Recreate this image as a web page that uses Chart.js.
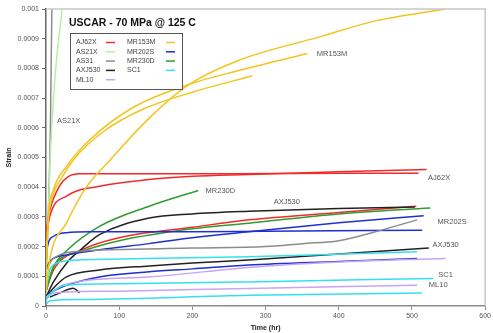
<!DOCTYPE html>
<html>
<head>
<meta charset="utf-8">
<script src="https://cdn.jsdelivr.net/npm/chart.js@4.4.1/dist/chart.umd.min.js"></script>
<style>
  html, body { margin: 0; padding: 0; background: #fff; }
  #wrap { width: 493px; height: 333px; }
</style>
</head>
<body>
<div id="wrap"><canvas id="grafico" width="493" height="333"></canvas></div>
<script>
// ================= DADOS =================
// cada curva: pares [tempo (hr), deformacao]
const xTicks = [0, 100, 200, 300, 400, 500, 600];
const yTicks = [0, 0.0001, 0.0002, 0.0003, 0.0004, 0.0005, 0.0006, 0.0007, 0.0008, 0.0009, 0.001];

const aj62x_1 = [[0,2.5e-4],[5,3.2e-4],[10,3.6e-4],[20,4.1e-4],[30,4.35e-4],[46,4.45e-4],[100,4.45e-4],[200,4.45e-4],[300,4.46e-4],[400,4.47e-4],[509,4.47e-4]];
const aj62x_2 = [[0,2.2e-4],[5,3.0e-4],[28,3.7e-4],[73,4.03e-4],[141,4.26e-4],[200,4.37e-4],[277,4.43e-4],[400,4.52e-4],[520,4.6e-4]];
const aj62x_3 = [[0,0.5e-4],[10,1.2e-4],[50,1.9e-4],[100,2.3e-4],[200,2.65e-4],[277,2.9e-4],[400,3.15e-4],[506,3.36e-4]];

const as21x_1 = [[0,0.3e-4],[2,2.0e-4],[5,4.6e-4],[12,7.6e-4],[22,10.0e-4],[26,11e-4]];

const as31_1 = [[0,1.0e-4],[3,3.0e-4],[6,6.0e-4],[8,10.0e-4],[9,11.5e-4]];
const as31_2 = [[0,1.2e-4],[10,1.6e-4],[50,1.85e-4],[100,1.9e-4],[200,1.95e-4],[300,2.0e-4],[350,2.1e-4],[400,2.2e-4],[450,2.5e-4],[507,2.9e-4]];

const axj530_1 = [[0,0.3e-4],[10,0.8e-4],[30,1.5e-4],[50,1.95e-4],[73,2.4e-4],[141,2.96e-4],[200,3.1e-4],[277,3.19e-4],[400,3.28e-4],[504,3.33e-4]];
const axj530_2 = [[0,0.3e-4],[10,0.6e-4],[28,0.98e-4],[73,1.21e-4],[141,1.35e-4],[200,1.45e-4],[277,1.55e-4],[400,1.75e-4],[523,1.95e-4]];
const axj530_3 = [[5,0.3e-4],[20,0.45e-4],[37,0.6e-4],[46,0.45e-4]];

const ml10_1 = [[0,0.3e-4],[10,0.43e-4],[28,0.47e-4],[100,0.5e-4],[277,0.59e-4],[507,0.7e-4]];
const ml10_2 = [[0,0.3e-4],[23,0.7e-4],[141,0.98e-4],[277,1.3e-4],[400,1.48e-4],[546,1.6e-4]];

const mr153m_1 = [[0,1.0e-4],[3,2.8e-4],[8,3.6e-4],[21,4.3e-4],[40,5.0e-4],[80,5.9e-4],[130,6.6e-4],[200,7.2e-4],[282,7.75e-4]];
const mr153m_2 = [[0,1.2e-4],[3,3.0e-4],[10,3.9e-4],[28,4.7e-4],[60,5.6e-4],[120,6.7e-4],[200,7.5e-4],[262,7.92e-4],[357,8.5e-4]];
const mr153m_3 = [[0,0.5e-4],[5,1.55e-4],[28,2.8e-4],[55,4.0e-4],[87,4.9e-4],[140,6.3e-4],[195,7.45e-4],[262,8.26e-4],[375,9.07e-4],[450,9.6e-4],[546,10.0e-4]];

const mr202s_1 = [[0,1.4e-4],[2,2.0e-4],[10,2.34e-4],[28,2.47e-4],[60,2.5e-4],[200,2.5e-4],[300,2.52e-4],[514,2.55e-4]];
const mr202s_2 = [[0,1.2e-4],[5,1.5e-4],[28,1.72e-4],[73,1.89e-4],[141,2.1e-4],[200,2.3e-4],[277,2.5e-4],[400,2.8e-4],[516,3.04e-4]];
const mr202s_3 = [[0,0.3e-4],[10,0.5e-4],[28,0.7e-4],[73,0.98e-4],[141,1.15e-4],[200,1.25e-4],[277,1.38e-4],[400,1.5e-4],[507,1.6e-4]];

const mr230d_1 = [[0,0.5e-4],[10,1.3e-4],[30,1.9e-4],[73,2.68e-4],[141,3.36e-4],[208,3.89e-4]];
const mr230d_2 = [[0,0.5e-4],[10,1.3e-4],[50,1.85e-4],[100,2.2e-4],[200,2.6e-4],[277,2.79e-4],[400,3.1e-4],[525,3.3e-4]];

const sc1_1 = [[0,0.5e-4],[5,1.2e-4],[15,1.45e-4],[28,1.52e-4],[100,1.58e-4],[277,1.66e-4],[507,1.83e-4]];
const sc1_2 = [[0,0.2e-4],[10,0.5e-4],[28,0.7e-4],[100,0.75e-4],[277,0.81e-4],[529,0.93e-4]];
const sc1_3 = [[0,0.05e-4],[5,0.18e-4],[50,0.22e-4],[277,0.36e-4],[514,0.44e-4]];

// legenda (duas colunas)
const ligas = ['AJ62X', 'AS21X', 'AS31', 'AXJ530', 'ML10', 'MR153M', 'MR202S', 'MR230D', 'SC1'];
const cores = ['#f22a2a', '#b6efa6', '#8c8c8c', '#222222', '#c4a6f2', '#f2c41c', '#1f2fd0', '#2f9c2f', '#35e0ee'];

// rotulos dentro do grafico: [texto, tempo, deformacao]
const rotulos = [
  ['AS21X', 15, 6.23e-4],
  ['MR153M', 370, 8.5e-4],
  ['AJ62X', 522, 4.3e-4],
  ['MR230D', 218, 3.87e-4],
  ['AXJ530', 311, 3.52e-4],
  ['MR202S', 535, 2.84e-4],
  ['AXJ530', 528, 2.05e-4],
  ['SC1', 536, 1.06e-4],
  ['ML10', 523, 0.7e-4]
];

// ================= MONTAGEM =================
const curvas = [
  [mr153m_1, 5], [mr153m_2, 5], [mr153m_3, 5],
  [as31_2, 2],
  [sc1_1, 8], [sc1_2, 8], [sc1_3, 8],
  [ml10_1, 4], [ml10_2, 4],
  [mr202s_1, 6], [mr202s_2, 6], [mr202s_3, 6],
  [mr230d_1, 7], [mr230d_2, 7],
  [axj530_1, 3], [axj530_2, 3], [axj530_3, 3],
  [aj62x_1, 0], [aj62x_2, 0], [aj62x_3, 0],
  [as21x_1, 1], [as31_1, 2]
];

const datasets = curvas.map(([pts, i]) => ({
  label: ligas[i],
  data: pts.map(p => ({ x: p[0], y: p[1] })),
  borderColor: cores[i],
  borderWidth: 1.5,
  pointRadius: 0,
  fill: false,
  cubicInterpolationMode: 'monotone'
}));

const FONTE = 'Arial, "Liberation Sans", sans-serif';

const extras = {
  id: 'extras',
  afterDatasetsDraw(chart) {
    const c = chart.ctx;
    const a = chart.chartArea;
    const sx = chart.scales.x, sy = chart.scales.y;
    c.save();
    // borda superior e direita
    c.strokeStyle = '#c8c8c8';
    c.lineWidth = 1.5;
    c.beginPath();
    c.moveTo(a.left, a.top);
    c.lineTo(a.right, a.top);
    c.lineTo(a.right, a.bottom);
    c.stroke();

    // rotulos das curvas
    c.fillStyle = '#555';
    c.font = '7.5px ' + FONTE;
    c.textBaseline = 'middle';
    c.textAlign = 'left';
    rotulos.forEach(r => {
      c.fillText(r[0], sx.getPixelForValue(r[1]), sy.getPixelForValue(r[2]));
    });

    // titulo
    c.fillStyle = '#111';
    c.font = 'bold 10.5px ' + FONTE;
    c.fillText('USCAR - 70 MPa @ 125 C', 69, 23);

    // caixa da legenda
    const bx = 70, by = 33, bw = 112, bh = 56;
    c.fillStyle = '#fff';
    c.fillRect(bx, by, bw, bh);
    c.strokeStyle = '#555';
    c.lineWidth = 1;
    c.strokeRect(bx + 0.5, by + 0.5, bw, bh);
    c.font = '7px ' + FONTE;
    ligas.forEach((nome, i) => {
      const col = i < 5 ? 0 : 1;
      const row = i < 5 ? i : i - 5;
      const tx = bx + 6 + col * 51;
      const ty = by + 9.5 + row * 9.3;
      c.fillStyle = '#444';
      c.fillText(nome, tx, ty);
      c.strokeStyle = cores[i];
      c.lineWidth = 1.5;
      c.beginPath();
      c.moveTo(tx + 30 + col * 9, ty);
      c.lineTo(tx + 39 + col * 9, ty);
      c.stroke();
    });
    c.restore();
  }
};

new Chart(document.getElementById('grafico').getContext('2d'), {
  type: 'line',
  data: { datasets },
  options: {
    responsive: false,
    animation: false,
    layout: { padding: { top: 9, right: 3, left: 0, bottom: 0 } },
    plugins: { legend: { display: false }, tooltip: { enabled: false } },
    scales: {
      x: {
        type: 'linear',
        min: 0, max: 600,
        afterBuildTicks: ax => { ax.ticks = xTicks.map(v => ({ value: v })); },
        afterFit: ax => { ax.height = 27; },
        grid: { drawOnChartArea: false, tickLength: 4, color: '#888' },
        border: { color: '#888', width: 1.5 },
        ticks: { color: '#555', font: { size: 7, family: FONTE }, padding: 2, maxRotation: 0 },
        title: { display: true, text: 'Time (hr)', color: '#222', font: { size: 7, weight: 'bold', family: FONTE }, padding: { top: 0, bottom: 1 } }
      },
      y: {
        min: 0, max: 0.001,
        afterBuildTicks: ax => { ax.ticks = yTicks.map(v => ({ value: v })); },
        afterFit: ax => { ax.width = 46; },
        grid: { drawOnChartArea: false, tickLength: 4, color: '#666' },
        border: { color: '#666', width: 1.5 },
        ticks: {
          color: '#555', font: { size: 7, family: FONTE }, padding: 3,
          callback: v => String(Number(v.toFixed(4)))
        },
        title: { display: true, text: 'Strain', color: '#222', font: { size: 7, weight: 'bold', family: FONTE }, padding: { top: 5, bottom: 0 } }
      }
    }
  },
  plugins: [extras]
});
</script>
</body>
</html>
